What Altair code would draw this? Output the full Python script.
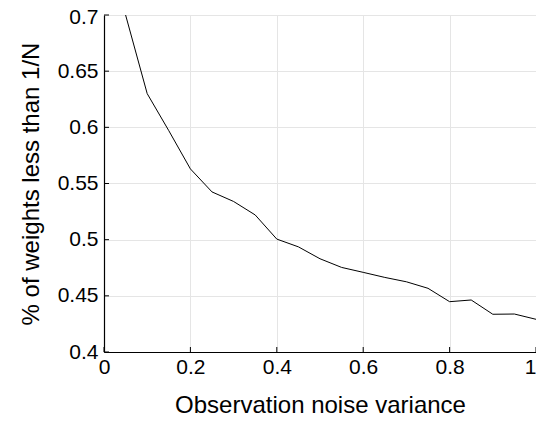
import altair as alt
import pandas as pd

noise_var = [0.05, 0.10, 0.15, 0.20, 0.25, 0.30, 0.35, 0.40, 0.45, 0.50,
             0.55, 0.60, 0.65, 0.70, 0.75, 0.80, 0.85, 0.90, 0.95, 1.00]
pct_below = [0.700, 0.630, 0.597, 0.563, 0.5425, 0.534, 0.522, 0.5005, 0.4936, 0.483,
             0.4753, 0.4709, 0.4664, 0.4625, 0.4567, 0.4448, 0.4463, 0.4336, 0.4338, 0.4291]

x_ticks = [0, 0.2, 0.4, 0.6, 0.8, 1.0]
y_ticks = [0.4, 0.45, 0.5, 0.55, 0.6, 0.65, 0.7]

W, H = 432, 337
FONT = "Liberation Sans"

df = pd.DataFrame({"x": noise_var, "y": pct_below})
xs = alt.Scale(domain=[0, 1], nice=False, zero=False)
ys = alt.Scale(domain=[0.4, 0.7], nice=False, zero=False)

x_axis = alt.Axis(values=x_ticks, format="~g", title="Observation noise variance",
                  grid=True, gridColor="#e5e5e5", gridWidth=1,
                  ticks=False, domainColor="black", domainWidth=1.2,
                  labelFontSize=21, labelFont=FONT, labelColor="black",
                  labelPadding=4, labelFlush=False,
                  labelAlign={"condition": {"test": "datum.value >= 1", "value": "right"},
                              "value": "center"},
                  titleFontSize=24, titleFont=FONT, titleFontWeight="normal",
                  titleColor="black", titlePadding=16)
y_axis = alt.Axis(values=y_ticks, format="~g", title="% of weights less than 1/N",
                  grid=True, gridColor="#e5e5e5", gridWidth=1,
                  ticks=False, domainColor="black", domainWidth=1.2,
                  labelFontSize=21, labelFont=FONT, labelColor="black",
                  labelPadding=6, labelFlush=False,
                  labelOffset={"condition": {"test": "datum.value >= 0.699", "value": 2},
                               "value": 0},
                  titleFontSize=24, titleFont=FONT, titleFontWeight="normal",
                  titleColor="black", titlePadding=14)

line = alt.Chart(df).mark_line(color="black", strokeWidth=1, clip=True).encode(
    x=alt.X("x:Q", scale=xs, axis=x_axis),
    y=alt.Y("y:Q", scale=ys, axis=y_axis),
)

ytick_df = pd.DataFrame({"y": y_ticks})
ytick = alt.Chart(ytick_df).mark_rule(color="black", strokeWidth=1).encode(
    y=alt.Y("y:Q", scale=ys, axis=y_axis), x=alt.value(0), x2=alt.value(5))

xtick_df = pd.DataFrame({"x": x_ticks})
xtick = alt.Chart(xtick_df).mark_rule(color="black", strokeWidth=1).encode(
    x=alt.X("x:Q", scale=xs, axis=x_axis), y=alt.value(H), y2=alt.value(H - 5))

chart = alt.layer(line, ytick, xtick).properties(
    width=W, height=H,
    autosize=alt.AutoSizeParams(type="none"),
    padding={"left": 96, "top": 7, "right": 0, "bottom": 68},
).configure_view(stroke=None).configure(background="white")

chart.save("out.html", embed_options={"renderer": "svg", "actions": False})
